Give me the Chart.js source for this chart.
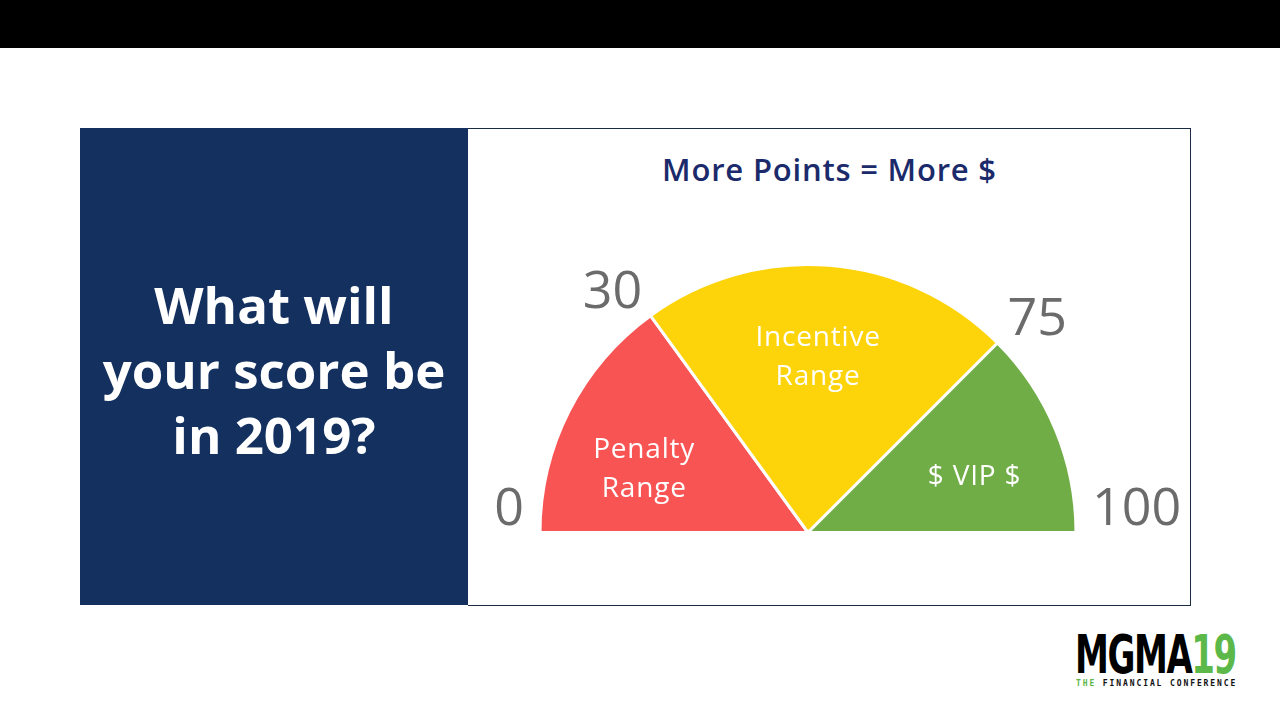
<!DOCTYPE html>
<html>
<head>
<meta charset="utf-8">
<script src="https://cdn.jsdelivr.net/npm/chart.js@4.4.0/dist/chart.umd.min.js"></script>
<style>
  body { margin: 0; width: 1280px; height: 720px; background: #fff; position: relative; overflow: hidden; font-family: "Open Sans", sans-serif; }
  .topbar { position: absolute; left: 0; top: 0; width: 1280px; height: 48px; background: #000; }
  .navy { position: absolute; left: 80px; top: 128px; width: 388px; height: 477px; background: #13305f; }
  .navy p { position: absolute; left: 0; width: 388px; top: 144px; margin: 0; color: #fff; font-weight: 700; font-size: 51px; line-height: 65px; text-align: center; }
  .panel { position: absolute; left: 468px; top: 128px; width: 722px; height: 476px; border: 1px solid #1c2b44; border-left: none; }
  .title { position: absolute; left: 468px; width: 723px; top: 148px; text-align: center; color: #1b2a6b; font-size: 31px; font-weight: 600; letter-spacing: 0.8px; }
  #gauge { position: absolute; left: 469px; top: 129px; }
  .logo-big { position: absolute; left: 1075px; top: 628px; white-space: nowrap; font-family: "Liberation Sans Narrow", "DejaVu Sans Condensed", sans-serif; font-weight: 700; font-size: 54px; line-height: 54px; letter-spacing: -2px; color: #000; transform: scale(0.7, 1); transform-origin: left top; }
  .logo-big span { color: #5cb848; }
  .logo-small { position: absolute; left: 1076px; top: 679px; font-family: "DejaVu Sans Mono", monospace; font-weight: 700; font-size: 8px; letter-spacing: 1.9px; color: #111; white-space: nowrap; }
  .logo-small span { color: #5cb848; }
</style>
</head>
<body>
<div class="topbar"></div>
<div class="navy"><p>What will<br>your score be<br>in 2019?</p></div>
<div class="panel"></div>
<div class="title">More Points = More $</div>
<canvas id="gauge" width="721" height="475"></canvas>
<div class="logo-big">MGMA<span>19</span></div>
<div class="logo-small"><span>THE</span> FINANCIAL CONFERENCE</div>
<script>
// score ranges (width of each band on a 0-100 scale)
const rangeNames = [['Penalty', 'Range'], ['Incentive', 'Range'], ['$ VIP $']];
const rangeWidths = [30, 45, 25];
const tickLabels = ['0', '30', '75', '100'];
const rangeColors = ['#f95454', '#fdd309', '#70ad47'];

// where inside each band its name sits (fraction of the band's angle)
const labelAt = [0.39, 0.485, 0.59];

const gaugeText = {
    id: 'gaugeText',
    afterDatasetsDraw(chart) {
        const ctx = chart.ctx;
        const arcs = chart.getDatasetMeta(0).data;
        ctx.save();

        ctx.fillStyle = '#fff';
        ctx.font = '500 28px "Open Sans"';
        ctx.letterSpacing = '0.8px';
        ctx.textAlign = 'center';
        ctx.textBaseline = 'middle';
        arcs.forEach((arc, i) => {
            const p = arc.getProps(['x', 'y', 'startAngle', 'endAngle', 'outerRadius'], true);
            const a = p.startAngle + (p.endAngle - p.startAngle) * labelAt[i];
            const r = p.outerRadius * 0.655;
            const cx = p.x + Math.cos(a) * r;
            const cy = p.y + Math.sin(a) * r;
            const lines = rangeNames[i];
            lines.forEach((line, j) => {
                ctx.fillText(line, cx, cy + (j - (lines.length - 1) / 2) * 39);
            });
        });

        // boundary numbers
        const first = arcs[0].getProps(['x', 'y', 'startAngle', 'outerRadius'], true);
        const angles = [first.startAngle].concat(arcs.map(a => a.getProps(['endAngle'], true).endAngle));
        ctx.fillStyle = '#6b6b6b';
        ctx.font = '500 52px "Open Sans"';
        ctx.letterSpacing = '0px';
        ctx.textBaseline = 'alphabetic';
        angles.forEach((a, i) => {
            const c = Math.cos(a);
            const px = first.x + c * first.outerRadius;
            const py = first.y + Math.sin(a) * first.outerRadius;
            const gap = 4 + 12 * c * c;
            if (c < 0) {
                ctx.textAlign = 'right';
                ctx.fillText(tickLabels[i], px - gap, py - 8);
            } else {
                ctx.textAlign = 'left';
                ctx.fillText(tickLabels[i], px + gap, py - 8);
            }
        });
        ctx.restore();
    }
};

new Chart(document.getElementById('gauge').getContext('2d'), {
    type: 'doughnut',
    data: {
        labels: rangeNames.map(n => n.join(' ')),
        datasets: [{
            data: rangeWidths,
            backgroundColor: rangeColors,
            borderColor: '#fff',
            borderWidth: 3
        }]
    },
    options: {
        responsive: false,
        animation: false,
        rotation: -90,
        circumference: 180,
        cutout: 0,
        radius: 268,
        layout: {
            padding: { left: 60, right: 103, top: 130, bottom: 66 }
        },
        plugins: {
            legend: { display: false },
            tooltip: { enabled: false }
        }
    },
    plugins: [gaugeText]
});
</script>
</body>
</html>
